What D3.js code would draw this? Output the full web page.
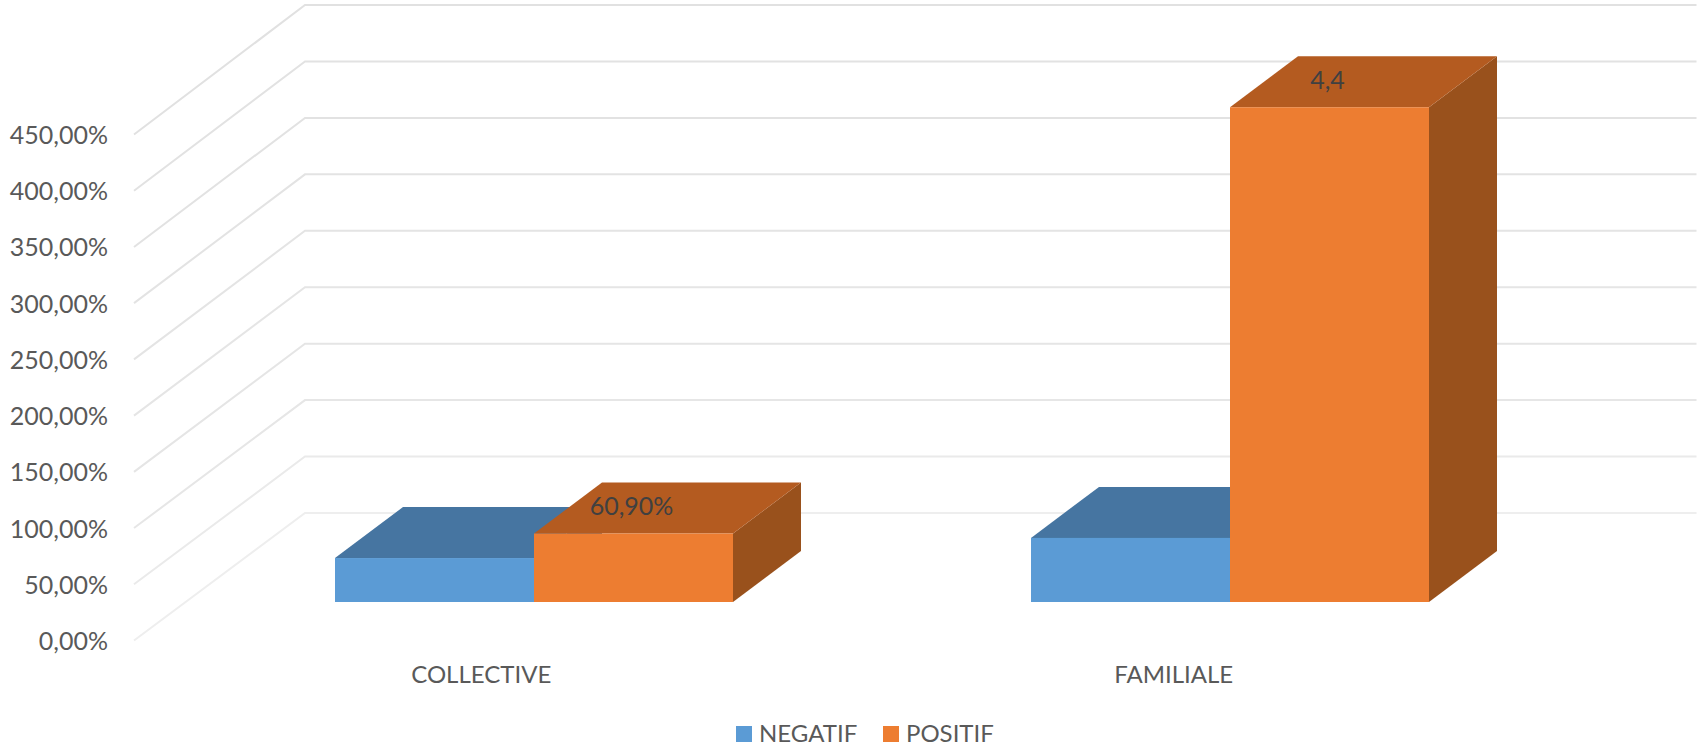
<!DOCTYPE html>
<html>
<head>
<meta charset="utf-8">
<script src="https://cdn.jsdelivr.net/npm/d3@7/dist/d3.min.js"></script>
<style>
  html, body { margin: 0; padding: 0; background: #fff; }
  svg { display: block; }
  text { font-family: Lato, "Open Sans", sans-serif; }
</style>
</head>
<body>
<svg id="chart" width="1702" height="750"></svg>
<script>
// Chart values
const categories = ["COLLECTIVE", "FAMILIALE"];
const seriesNames = ["NEGATIF", "POSITIF"];
const negatif = [0.391, 0.57];
const positif = [0.609, 4.4];
const positifLabels = ["60,90%", "4,4"];
const yTicks = [0, 0.5, 1, 1.5, 2, 2.5, 3, 3.5, 4, 4.5];

// Colours for each series: front, top and side faces
const faces = {
  NEGATIF: { front: "#5b9bd5", top: "#4675a1", side: "#3f6a92" },
  POSITIF: { front: "#ed7d31", top: "#b45b20", side: "#99511c" }
};

const svg = d3.select("#chart");
const fr = d3.formatLocale({ decimal: ",", thousands: " ", grouping: [3], currency: ["", " €"], percent: "%" });

// Scales on the front edge of the floor; category captions use a slightly narrower span
const x = d3.scaleBand().domain(categories).range([134, 1526]);
const xCaption = d3.scaleBand().domain(categories).range([134, 1519]);
const y = d3.scaleLinear().domain([0, 4.5]).range([640.5, 134.5]);
// The back wall reads slightly taller than the front edge
const yBack = d3.scaleLinear().domain([0, 4.5]).range([513, 5]);
// Gridlines fade towards the floor
const gridColor = d3.scaleLinear().domain([0, 1, 4.5]).range(["#eeeeee", "#e6e6e6", "#e1e1e1"]);

// Oblique projection: wall depth, bar front plane, bar depth
const wallDx = 171;
const barPlane = { dx: 52, dy: -38.5 };
const barDepth = { dx: 68, dy: -51 };
const barWidth = 199;

// Gridlines run along the side wall, then across the back wall
const gridPath = d3.line();
svg.append("g").attr("class", "grid")
  .selectAll("path").data(yTicks).join("path")
  .attr("fill", "none")
  .attr("stroke", t => gridColor(t))
  .attr("stroke-width", 2)
  .attr("d", t => gridPath([
    [x.range()[0], y(t)],
    [x.range()[0] + wallDx, yBack(t)],
    [1696.5, yBack(t)]
  ]));

// Value axis
const axis = svg.append("g")
  .attr("transform", "translate(116,1)")
  .call(d3.axisLeft(y).tickValues(yTicks).tickSize(0).tickPadding(8).tickFormat(fr.format(".2%")));
axis.select(".domain").remove();
axis.selectAll("text")
  .attr("font-family", "Lato, sans-serif")
  .attr("font-size", 25)
  .attr("fill", "#595959");

// One 3D bar: top and side parallelograms plus the front rectangle
function drawBar(g, cat, value, name, index) {
  const c = faces[name];
  const left = x(cat) + x.bandwidth() / 2 + barPlane.dx + (index - 1) * barWidth;
  const right = left + barWidth;
  const base = y(0) + barPlane.dy;
  const top = y(value) + barPlane.dy;
  const poly = pts => pts.map(p => p.join(",")).join(" ");
  g.append("polygon").attr("fill", c.side).attr("points", poly([
    [right, top], [right + barDepth.dx, top + barDepth.dy],
    [right + barDepth.dx, base + barDepth.dy], [right, base]
  ]));
  g.append("polygon").attr("fill", c.top).attr("points", poly([
    [left, top], [left + barDepth.dx, top + barDepth.dy],
    [right + barDepth.dx, top + barDepth.dy], [right, top]
  ]));
  g.append("rect").attr("fill", c.front)
    .attr("x", left).attr("y", top)
    .attr("width", barWidth).attr("height", base - top);
}

const bars = svg.append("g").attr("class", "bars");
categories.forEach((cat, i) => {
  drawBar(bars, cat, negatif[i], "NEGATIF", 0);
  drawBar(bars, cat, positif[i], "POSITIF", 1);
});

// Value labels sit on the top face of the orange bars
svg.append("g").selectAll("text").data(categories).join("text")
  .attr("x", d => x(d) + x.bandwidth() / 2 + barPlane.dx + barWidth / 2 - 2)
  .attr("y", (d, i) => y(positif[i]) + barPlane.dy + barDepth.dy / 2 + 7)
  .attr("text-anchor", "middle")
  .attr("font-size", 25)
  .attr("fill", "#404040")
  .text((d, i) => positifLabels[i]);

// Category labels
svg.append("g").selectAll("text").data(categories).join("text")
  .attr("x", d => xCaption(d) + xCaption.bandwidth() / 2 + 1)
  .attr("y", 683)
  .attr("text-anchor", "middle")
  .attr("font-size", 24)
  .attr("fill", "#595959")
  .text(d => d);

// Legend
const legendX = [736, 883];
const legend = svg.append("g").selectAll("g").data(seriesNames).join("g")
  .attr("transform", (d, i) => `translate(${legendX[i]},726)`);
legend.append("rect").attr("width", 16).attr("height", 16).attr("fill", d => faces[d].front);
legend.append("text").attr("x", 23).attr("y", 16)
  .attr("font-size", 24).attr("fill", "#595959").text(d => d);
</script>
</body>
</html>
